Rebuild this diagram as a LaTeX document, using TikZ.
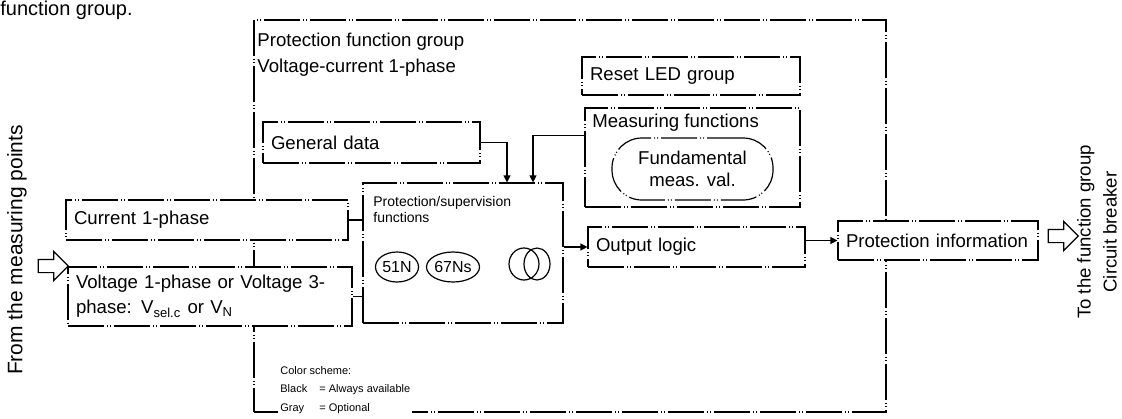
\documentclass[tikz,border=0pt]{standalone}
\usepackage{fontspec}
\setmainfont{Liberation Sans}
\usetikzlibrary{arrows.meta,positioning,shapes.geometric,shapes.arrows}

\begin{document}
\begin{tikzpicture}[x=0.5pt, y=-0.5pt, font=\fontsize{9.3}{11}\selectfont,
  ln/.style={line width=0.6pt},
  bx/.style={draw,ln,dash pattern=on 18pt off 1.5pt on 0.5pt off 1pt on 0.5pt off 1.5pt,
    fill=white,inner xsep=4pt,inner ysep=0pt,align=left},
  fnc/.style={draw,ln,ellipse,inner sep=0pt,font=\fontsize{8}{9}\selectfont},
  blk/.style={draw,ln,single arrow,single arrow head extend=4pt,minimum height=15pt,
    inner xsep=0pt,inner ysep=3pt,fill=white},
  arr/.style={ln,-{Triangle[length=3.5pt,width=3.5pt]}}]
\useasboundingbox (0,0) rectangle (1122,418);
% page text above the figure
\node[anchor=base west,inner sep=0pt,font=\fontsize{10}{12}\selectfont] (prevtxt) at (0,15) {function group.};
% function group frame
\node[bx,fill=none,minimum width=316pt,minimum height=196pt] (pfg) at (570,216) {};
\node[anchor=base west,inner sep=0pt] (pfgname) at (257,46) {Protection function group};
\node[anchor=base west,inner sep=0pt] (pfgtype) at (257,72) {Voltage-current 1-phase};
% boxes
\node[bx,text width=101pt,minimum height=19pt] (rst) at (691,76) {Reset LED group};
\node[bx,minimum width=107.5pt,minimum height=49.5pt] (meas) at (692.5,157.5) {};
\node[anchor=base west,inner sep=0pt] (measname) at (592,127) {Measuring functions};
\node[bx,rounded corners=15pt,align=center,minimum width=80.5pt,minimum height=31pt] (fund) at (692.5,169) {Fundamental\\meas. val.};
\node[bx,text width=100.5pt,minimum height=20.5pt] (gen) at (371.5,142.5) {General data};
\node[bx,text width=133pt,minimum height=20pt] (cur) at (207,220) {Current 1-phase};
\node[bx,text width=134pt,minimum height=29.5pt,font=\fontsize{9.3}{12.5}\selectfont] (volt) at (210,296.5) {Voltage 1-phase or Voltage 3-\\phase: V\textsubscript{sel.c} or V\textsubscript{N}};
\node[bx,minimum width=100pt,minimum height=70pt] (prot) at (463,253) {};
\node[anchor=north west,inner sep=0pt,align=left,font=\fontsize{7}{8}\selectfont] (protname) at (373,196) {Protection/supervision\\functions};
\node[fnc,minimum width=21.5pt,minimum height=15pt] (f51) at (397,267) {51N};
\node[fnc,minimum width=26.5pt,minimum height=15pt] (f67) at (453,267) {67Ns};
\node[fnc,minimum width=15pt,minimum height=16pt] (fa) at (524,264) {};
\node[fnc,minimum width=13pt,minimum height=16pt] (fb) at (537,264) {};
\node[bx,text width=100.5pt,minimum height=20pt] (out) at (696.5,247) {Output logic};
\node[bx,text width=92pt,minimum height=19.5pt] (pinfo) at (938,240.5) {Protection information};
% legend
\node[anchor=north west,inner sep=1pt,fill=white,align=left,font=\fontsize{5.5}{9.3}\selectfont] (legend) at (278,364)
  {Color scheme:\\\makebox[19.5pt][l]{Black}= Always available\\\makebox[19.5pt][l]{Gray}= Optional};
% outside
\node[rotate=90,font=\fontsize{10.5}{12}\selectfont] (src) at (17,250) {From the measuring points};
\node[blk] (inarr) at (50,266) {};
\node[blk] (outarr) at (1060,236) {};
\node[rotate=90,align=center,font=\fontsize{9.3}{13}\selectfont] (dst) at (1097,232) {To the function group\\Circuit breaker};
% connections
\draw[arr] (gen.east) -| ([xshift=22pt]prot.north);
\draw[arr] ([yshift=11pt]meas.west) -| ([xshift=35pt]prot.north);
\draw[ln] (cur.east) -- (cur.east -| prot.west);
\draw[ln] (volt.east) -- (volt.east -| prot.west);
\draw[arr] (prot.east |- out.west) -- (out.west);
\draw[arr] (out.east |- pinfo.west) -- (pinfo.west);
\end{tikzpicture}
\end{document}
